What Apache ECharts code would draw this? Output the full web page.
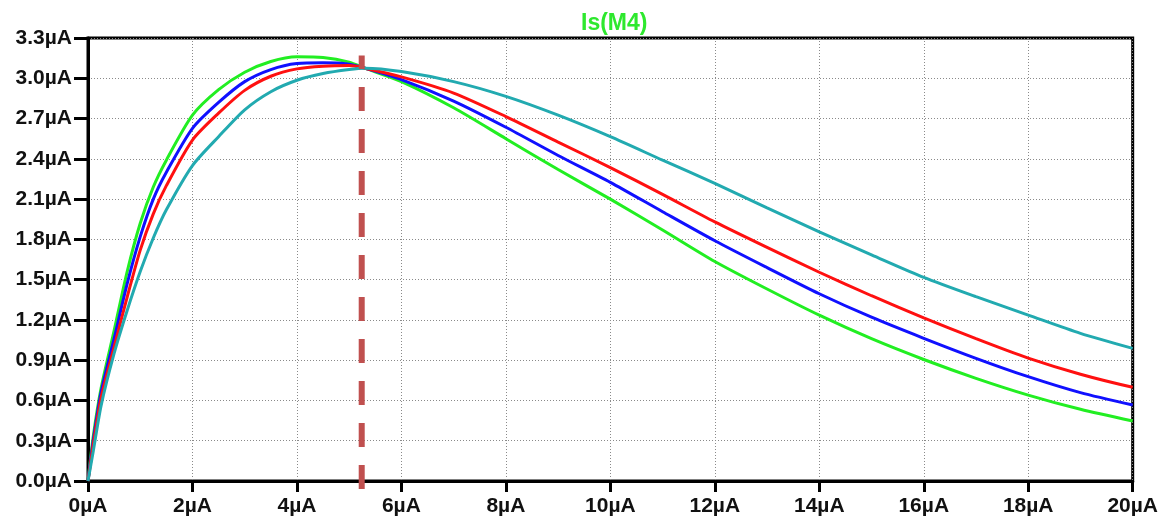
<!DOCTYPE html>
<html>
<head>
<meta charset="utf-8">
<script src="https://cdn.jsdelivr.net/npm/echarts@6/dist/echarts.min.js"></script>
<style>
html,body{margin:0;padding:0;background:#fff;}
#chart{width:1161px;height:522px;}
</style>
</head>
<body>
<div id="chart"></div>
<script>
const titleText = "Is(M4)";
const xValues = [0, 0.1, 0.25, 0.5, 0.75, 1, 1.25, 1.5, 2, 2.5, 3, 3.5, 4, 4.5, 5, 5.3, 6, 7, 8, 9, 10, 11, 12, 13, 14, 15, 16, 17, 18, 19, 20];
const greenValues = [0, 0.33, 0.69, 1.12, 1.56, 1.92, 2.19, 2.39, 2.725, 2.915, 3.045, 3.125, 3.16, 3.155, 3.12, 3.075, 2.975, 2.78, 2.55, 2.32, 2.1, 1.87, 1.635, 1.43, 1.235, 1.06, 0.905, 0.765, 0.64, 0.534, 0.447];
const blueValues  = [0, 0.3, 0.66, 1.06, 1.47, 1.82, 2.1, 2.3, 2.627, 2.82, 2.975, 3.065, 3.11, 3.115, 3.105, 3.075, 2.99, 2.83, 2.635, 2.425, 2.225, 2.006, 1.79, 1.59, 1.395, 1.22, 1.063, 0.914, 0.777, 0.658, 0.566];
const redValues   = [0, 0.27, 0.62, 1.0, 1.37, 1.72, 1.99, 2.2, 2.54, 2.74, 2.91, 3.015, 3.07, 3.09, 3.095, 3.075, 3.01, 2.89, 2.715, 2.525, 2.335, 2.135, 1.93, 1.74, 1.555, 1.38, 1.215, 1.06, 0.915, 0.795, 0.698];
const cyanValues  = [0, 0.22, 0.56, 0.95, 1.27, 1.56, 1.81, 2.02, 2.35, 2.565, 2.765, 2.9, 2.985, 3.035, 3.065, 3.075, 3.05, 2.975, 2.865, 2.725, 2.565, 2.39, 2.217, 2.035, 1.855, 1.685, 1.517, 1.373, 1.236, 1.1, 0.988];
const cursorX = [5.24, 5.24];
const cursorY = [-0.06, 3.17];
const xTickLabels = ["0µA","2µA","4µA","6µA","8µA","10µA","12µA","14µA","16µA","18µA","20µA"];
const yTickLabels = ["0.0µA","0.3µA","0.6µA","0.9µA","1.2µA","1.5µA","1.8µA","2.1µA","2.4µA","2.7µA","3.0µA","3.3µA"];

function pairs(xs, ys){ return xs.map((x,i)=>[x, ys[i]]); }

const chart = echarts.init(document.getElementById('chart'), null, {renderer:'canvas'});
const labelFont = {fontFamily:'"Liberation Sans", Arial, sans-serif', fontWeight:'bold', fontSize:21, color:'#111'};
const gridLine = {show:true, lineStyle:{color:'#8a8a8a', width:1, type:[1,2]}};
function curve(name, color, ys){
  return {name, type:'line', data:pairs(xValues, ys), showSymbol:false, smooth:0.25,
    lineStyle:{color, width:3}, itemStyle:{color}, animation:false};
}
chart.setOption({
  animation:false,
  backgroundColor:'#fff',
  title:{text:titleText, left:576, top:7, textStyle:{color:'#2ee82e', fontSize:23, fontWeight:'bold', fontFamily:'"Liberation Sans", Arial, sans-serif'}},
  grid:{left:88, right:28, top:38, bottom:41, show:true, borderColor:'#000', borderWidth:3, backgroundColor:'transparent'},
  xAxis:{type:'value', min:0, max:20, interval:2,
    axisLine:{show:true, lineStyle:{color:'#000', width:3}},
    axisTick:{show:true, length:11, lineStyle:{color:'#000', width:3}},
    axisLabel:Object.assign({margin:15, formatter:v=>xTickLabels[Math.round(v/2)]}, labelFont),
    splitLine:gridLine},
  yAxis:{type:'value', min:0, max:3.3, interval:0.3,
    axisLine:{show:true, lineStyle:{color:'#000', width:3}},
    axisTick:{show:true, length:14, lineStyle:{color:'#000', width:3}},
    axisLabel:Object.assign({margin:16, formatter:v=>yTickLabels[Math.round(v/0.3)]}, labelFont),
    splitLine:gridLine},
  series:[
    curve('green', '#22ee22', greenValues),
    curve('blue', '#1010ff', blueValues),
    curve('red', '#ff1010', redValues),
    curve('cyan', '#22aab0', cyanValues),
    {name:'cursor', type:'line', data:pairs(cursorX, cursorY), showSymbol:false, clip:false,
      lineStyle:{color:'#c0504f', width:6, type:[24,18]}, z:5, animation:false}
  ]
});
</script>
</body>
</html>
